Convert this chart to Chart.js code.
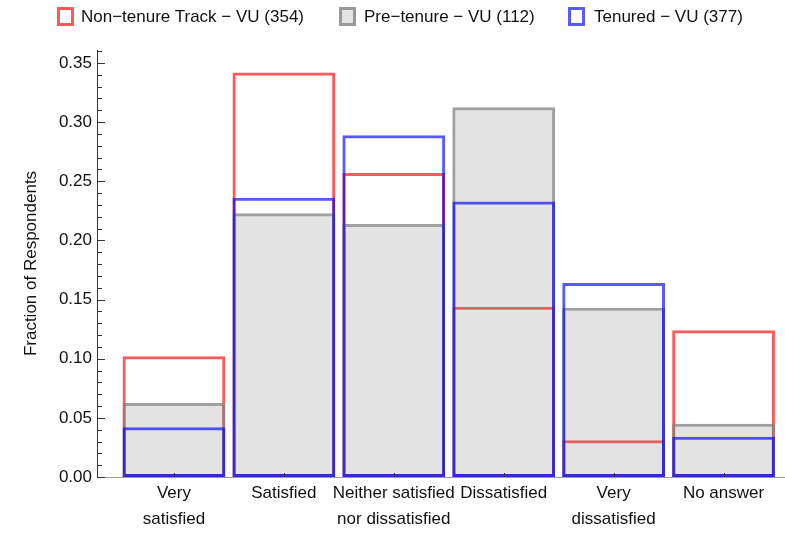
<!DOCTYPE html>
<html>
<head>
<meta charset="utf-8">
<script src="https://cdn.jsdelivr.net/npm/chart.js@4.4.0/dist/chart.umd.min.js"></script>
<style>
  html, body { margin:0; padding:0; background:#fff; }
  #wrap { position:relative; width:785px; height:540px; font-family:"Liberation Sans", Arial, sans-serif; }
  canvas { position:absolute; left:0; top:0; }
  .lg { position:absolute; top:7px; height:19px; font-size:17px; line-height:19px; color:#111; white-space:nowrap; }
  .lg i { position:absolute; left:0; top:0; width:17px; height:19px; box-sizing:border-box; border:3px solid; }
  .lg span { position:absolute; top:0; }
</style>
</head>
<body>
<div id="wrap">
  <canvas id="chart" width="785" height="540"></canvas>
  <div class="lg" style="left:57px"><i style="border-color:rgba(255,0,0,.65);background:#fff"></i><span style="left:24px">Non−tenure Track − VU (354)</span></div>
  <div class="lg" style="left:339px"><i style="border-color:rgba(128,128,128,.75);background:#e4e4e4"></i><span style="left:25px">Pre−tenure − VU (112)</span></div>
  <div class="lg" style="left:568px"><i style="border-color:rgba(0,0,255,.65);background:#fff"></i><span style="left:26px">Tenured − VU (377)</span></div>
</div>
<script>
// categorias e valores
const categories = [['Very', 'satisfied'], 'Satisfied', ['Neither satisfied', 'nor dissatisfied'], 'Dissatisfied', ['Very', 'dissatisfied'], 'No answer'];
const nonTenure = [0.102, 0.342, 0.257, 0.144, 0.031, 0.124];
const preTenure = [0.0625, 0.223, 0.214, 0.3125, 0.143, 0.045];
const tenured = [0.042, 0.236, 0.289, 0.233, 0.164, 0.034];
const yTicks = [0, 0.05, 0.10, 0.15, 0.20, 0.25, 0.30, 0.35];

const toPoints = arr => arr.map((v, i) => ({ x: i, y: v }));
const FONT = 'Liberation Sans';

// marcas dos eixos (maiores a cada 0.05, menores a cada 0.01)
const axisTicks = {
  id: 'axisTicks',
  afterDraw(chart) {
    const { ctx, chartArea, scales: { x, y } } = chart;
    ctx.save();
    ctx.strokeStyle = '#333';
    ctx.lineWidth = 1;
    for (let k = 0; k <= 36; k++) {
      const py = Math.round(y.getPixelForValue(k / 100)) + 0.5;
      const len = k % 5 === 0 ? 8 : 5;
      ctx.beginPath();
      ctx.moveTo(chartArea.left, py);
      ctx.lineTo(chartArea.left + len, py);
      ctx.stroke();
    }
    categories.forEach((c, i) => {
      const px = Math.round(x.getPixelForValue(i)) + 0.5;
      ctx.beginPath();
      ctx.moveTo(px, chartArea.bottom);
      ctx.lineTo(px, chartArea.bottom - 4);
      ctx.stroke();
    });
    ctx.restore();
  }
};

const barOpts = { borderWidth: 3, borderSkipped: false, grouped: false, categoryPercentage: 1, barPercentage: 0.935 };

new Chart(document.getElementById('chart'), {
  type: 'bar',
  data: {
    datasets: [
      { label: 'Non−tenure Track − VU (354)', data: toPoints(nonTenure), borderColor: 'rgba(255,0,0,0.65)', backgroundColor: 'rgba(0,0,0,0)', order: 3, ...barOpts },
      { label: 'Pre−tenure − VU (112)', data: toPoints(preTenure), borderColor: 'rgba(128,128,128,0.75)', backgroundColor: 'rgba(128,128,128,0.22)', order: 2, ...barOpts },
      { label: 'Tenured − VU (377)', data: toPoints(tenured), borderColor: 'rgba(0,0,255,0.65)', backgroundColor: 'rgba(0,0,0,0)', order: 1, ...barOpts }
    ]
  },
  options: {
    responsive: false,
    animation: false,
    layout: { padding: { top: 50, right: 1, left: 0, bottom: 0 } },
    plugins: { legend: { display: false }, tooltip: { enabled: false } },
    scales: {
      x: {
        type: 'linear',
        offset: false,
        min: -0.7,
        max: 5.55,
        afterBuildTicks: s => { s.ticks = categories.map((c, i) => ({ value: i })); },
        afterFit: s => { s.height = 63; },
        grid: { display: false, drawTicks: false },
        border: { display: true, color: '#999', width: 1 },
        ticks: {
          autoSkip: false, maxRotation: 0, padding: 3,
          color: '#111', font: { family: FONT, size: 17, lineHeight: 26 / 17 },
          callback: v => categories[v]
        }
      },
      y: {
        min: 0,
        max: 0.361,
        afterBuildTicks: s => { s.ticks = yTicks.map(v => ({ value: v })); },
        afterFit: s => { s.width = 97; },
        grid: { display: false, drawTicks: false },
        border: { display: true, color: '#333', width: 1 },
        ticks: { padding: 5, color: '#111', font: { family: FONT, size: 17 }, callback: v => v.toFixed(2) },
        title: { display: true, text: 'Fraction of Respondents', color: '#111', font: { family: FONT, size: 17 }, padding: { top: 21, bottom: 0 } }
      }
    }
  },
  plugins: [axisTicks]
});
</script>
</body>
</html>
